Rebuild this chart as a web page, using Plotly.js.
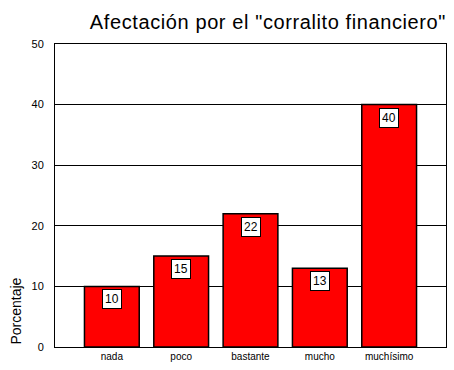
<!DOCTYPE html>
<html><head><meta charset="utf-8">
<script src="https://cdn.plot.ly/plotly-3.0.1.min.js"></script>
<style>html,body{margin:0;padding:0;background:#fff} .gtitle{letter-spacing:0.6px}</style>
</head><body>
<div id="chart" style="width:454px;height:370px"></div>
<script>
const categories = ["nada", "poco", "bastante", "mucho", "muchísimo"];
const values = [10, 15, 22, 13, 40];
const yTicks = [0, 10, 20, 30, 40, 50];
const titleText = 'Afectación por el "corralito financiero"';
const yTitle = "Porcentaje";

const FONT = "Liberation Sans, Arial, sans-serif";

const annotations = categories.map((c, i) => ({
  x: c, y: values[i], xref: "x", yref: "y",
  text: String(values[i]), showarrow: false,
  yanchor: "top", yshift: -3,
  bgcolor: "#ffffff", bordercolor: "#000000", borderwidth: 1, borderpad: 2,
  font: {family: FONT, size: 12, color: "#000"}
}));
annotations.push({
  xref: "paper", yref: "paper", x: -0.1, y: 0.12, xanchor: "center", yanchor: "middle",
  text: yTitle, textangle: -90, showarrow: false,
  font: {family: FONT, size: 14, color: "#000"}
});

Plotly.newPlot("chart", [{
  type: "bar", x: categories, y: values, width: 0.79,
  marker: {color: "#ff0000", line: {color: "#000000", width: 1.5}}
}], {
  width: 454, height: 370,
  margin: {l: 55, r: 8, t: 44, b: 23},
  paper_bgcolor: "#fff", plot_bgcolor: "#fff",
  font: {family: FONT, color: "#000"},
  title: {text: titleText, x: 1, xref: "paper", xanchor: "right", y: 21, yref: "container", yanchor: "middle",
          font: {family: FONT, size: 20, color: "#000"}},
  xaxis: {range: [-0.82, 4.82], showgrid: false, zeroline: false, showline: true, mirror: true,
          linecolor: "#000", linewidth: 1, ticks: "", tickfont: {size: 10}, fixedrange: true},
  yaxis: {range: [0, 50], tickvals: yTicks, showgrid: true, gridcolor: "#000", gridwidth: 1,
          zeroline: false, showline: true, mirror: true, linecolor: "#000", linewidth: 1,
          ticks: "", ticklabelstandoff: 8, tickfont: {size: 11}, fixedrange: true},
  annotations: annotations,
  showlegend: false,
  bargap: 0.2
}, {displayModeBar: false, staticPlot: true});
</script>
</body></html>
